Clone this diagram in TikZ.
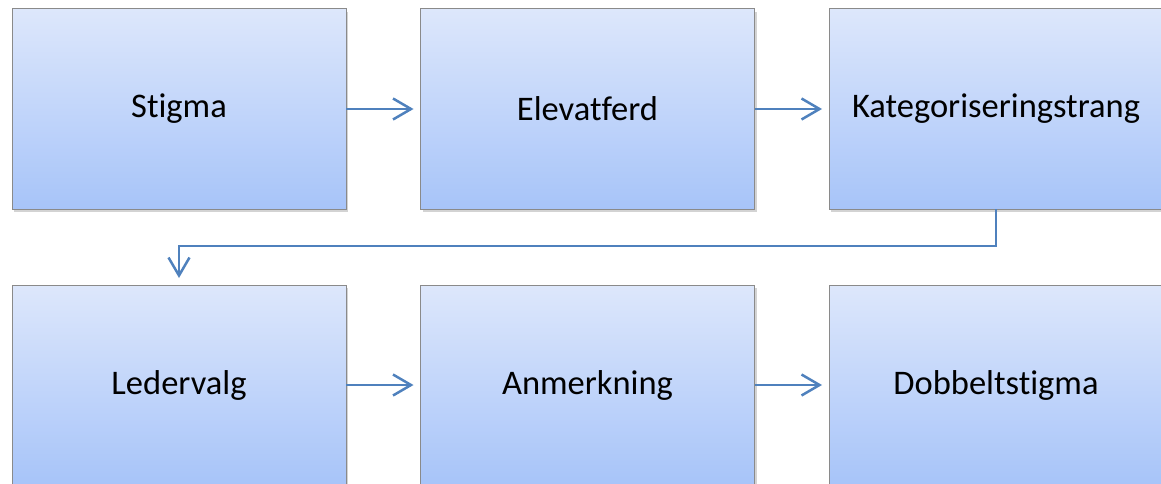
\documentclass[tikz,border=0pt]{standalone}
\usepackage{fontspec}
\setmainfont{Carlito}[Ligatures=NoCommon]
\usetikzlibrary{arrows.meta,positioning,shadows}
\definecolor{linkblue}{HTML}{4F81BD}
\definecolor{boxtop}{HTML}{DDE7FB}
\definecolor{boxbot}{HTML}{A7C4F9}
\definecolor{boxline}{HTML}{8A8A8A}

\begin{document}
\begin{tikzpicture}[x=1pt,y=-1pt,node distance=76pt and 74.5pt,
  stage/.style={draw=boxline,line width=1pt,top color=boxtop,bottom color=boxbot,
    minimum width=334pt,minimum height=200pt,inner sep=0pt,outer sep=0pt,
    font=\fontsize{34.5}{40}\selectfont,
    drop shadow={shadow xshift=2pt,shadow yshift=-3pt,opacity=0.35}},
  link/.style={draw=linkblue,line width=2.5pt,-{Straight Barb[length=18pt,width=21pt,line width=2.5pt]},shorten >=7pt}]
\useasboundingbox (0,0) rectangle (1161,484);
\node[stage] (stigma) at (179,109) {Stigma};
\node[stage,right=of stigma] (elev) {Elevatferd};
\node[stage,right=of elev] (kat) {Kategoriseringstrang};
\node[stage,below=of stigma] (leder) {Ledervalg};
\node[stage,right=of leder] (anm) {Anmerkning};
\node[stage,right=of anm] (dobbel) {Dobbeltstigma};
\draw[link] (stigma) -- (elev);
\draw[link] (elev) -- (kat);
\draw[link] (kat.south) -- ++(0,37) -| (leder.north);
\draw[link] (leder) -- (anm);
\draw[link] (anm) -- (dobbel);
\end{tikzpicture}
\end{document}
